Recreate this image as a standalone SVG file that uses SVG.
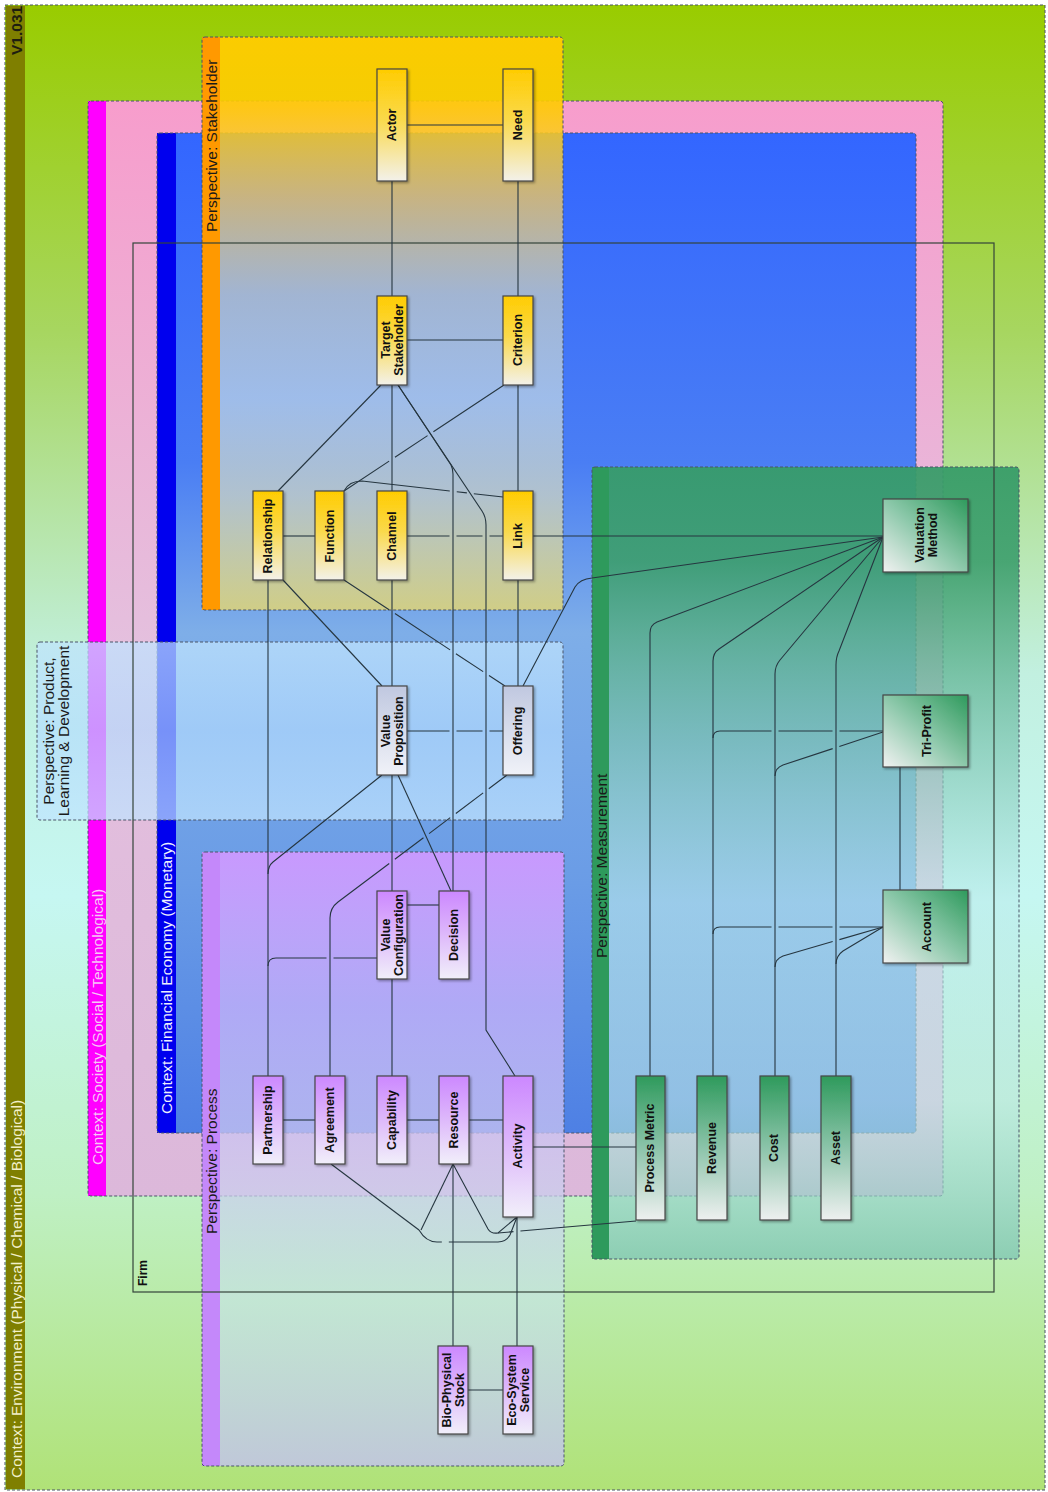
<svg xmlns="http://www.w3.org/2000/svg" width="1048" height="1492" viewBox="0 0 1048 1492">
<defs>
<style>
.bx{stroke:#4a5468;stroke-width:1;stroke-dasharray:3 2;}
.ctx{font-family:"Liberation Sans",Arial,sans-serif;font-size:15.5px;}
.per{font-family:"Liberation Sans",Arial,sans-serif;font-size:15.5px;fill:#1a1a1a;}
.nd{stroke:#474747;stroke-width:1.2;filter:url(#sh);}
.lb{font-family:"Liberation Sans",Arial,sans-serif;font-size:12.5px;font-weight:bold;fill:#111;text-anchor:middle;dominant-baseline:central;}
.fl{font-family:"Liberation Sans",Arial,sans-serif;font-size:12px;font-weight:bold;fill:#111;text-anchor:start;dominant-baseline:central;}
.cn{fill:none;stroke:#263640;stroke-width:1.1;}
</style>
<filter id="sh" x="-30%" y="-30%" width="160%" height="160%"><feDropShadow dx="1.5" dy="1.5" stdDeviation="1.2" flood-color="#000" flood-opacity="0.35"/></filter>
<linearGradient id="gEnv" x1="0" y1="0" x2="0" y2="1">
<stop offset="0" stop-color="#99cc00"/><stop offset="0.22" stop-color="#a7d660"/><stop offset="0.45" stop-color="#c2f0e0"/><stop offset="0.6" stop-color="#c6f7f2"/><stop offset="0.8" stop-color="#bff0c4"/><stop offset="1" stop-color="#b0e277"/>
</linearGradient>
<linearGradient id="gSoc" x1="0" y1="0" x2="0" y2="1">
<stop offset="0" stop-color="#f79dcc"/><stop offset="0.5" stop-color="#e4c0de"/><stop offset="1" stop-color="#dcb8da"/>
</linearGradient>
<linearGradient id="gBlue" x1="0" y1="0" x2="0" y2="1">
<stop offset="0" stop-color="#3366ff"/><stop offset="0.33" stop-color="#4a7ef4"/><stop offset="0.5" stop-color="#7eaee8"/><stop offset="0.75" stop-color="#6a9ce6"/><stop offset="1" stop-color="#4e80e4"/>
</linearGradient>
<linearGradient id="gStk" x1="0" y1="0" x2="0" y2="1">
<stop offset="0" stop-color="#ffcc00" stop-opacity="0.96"/><stop offset="0.12" stop-color="#ffcc00" stop-opacity="0.9"/><stop offset="0.28" stop-color="#f0c860" stop-opacity="0.78"/><stop offset="0.45" stop-color="#d0d4c0" stop-opacity="0.68"/><stop offset="0.63" stop-color="#c8dce4" stop-opacity="0.68"/><stop offset="0.8" stop-color="#d4d8c0" stop-opacity="0.72"/><stop offset="1" stop-color="#e6d76e" stop-opacity="0.8"/>
</linearGradient>
<linearGradient id="gProc" x1="0" y1="0" x2="0" y2="1">
<stop offset="0" stop-color="#cc99ff" stop-opacity="0.96"/><stop offset="0.25" stop-color="#c4b0fa" stop-opacity="0.8"/><stop offset="0.5" stop-color="#ccc8f0" stop-opacity="0.75"/><stop offset="0.73" stop-color="#c6e4e6" stop-opacity="0.7"/><stop offset="1" stop-color="#c1c5e3" stop-opacity="0.9"/>
</linearGradient>
<linearGradient id="gMeas" x1="0" y1="0" x2="0" y2="1">
<stop offset="0" stop-color="#379c68" stop-opacity="0.94"/><stop offset="0.12" stop-color="#3c9e6c" stop-opacity="0.9"/><stop offset="0.35" stop-color="#7cc4b0" stop-opacity="0.7"/><stop offset="0.55" stop-color="#bcecec" stop-opacity="0.6"/><stop offset="0.8" stop-color="#bce8e4" stop-opacity="0.6"/><stop offset="1" stop-color="#7dc4b3" stop-opacity="0.75"/>
</linearGradient>
<linearGradient id="gProd" x1="0" y1="0" x2="0" y2="1">
<stop offset="0" stop-color="#c0e4ff" stop-opacity="0.72"/><stop offset="0.5" stop-color="#b4dcff" stop-opacity="0.66"/><stop offset="1" stop-color="#c0e4ff" stop-opacity="0.72"/>
</linearGradient>
<linearGradient id="gY" x1="0" y1="0" x2="0" y2="1"><stop offset="0" stop-color="#ffcc00"/><stop offset="0.45" stop-color="#fad94a"/><stop offset="1" stop-color="#f3f1ea"/></linearGradient>
<linearGradient id="gP" x1="0" y1="0" x2="0" y2="1"><stop offset="0" stop-color="#cc88ff"/><stop offset="0.45" stop-color="#dcb4fb"/><stop offset="1" stop-color="#f1effa"/></linearGradient>
<linearGradient id="gB" x1="0" y1="0" x2="0" y2="1"><stop offset="0" stop-color="#c0c8e0"/><stop offset="1" stop-color="#f0f2f8"/></linearGradient>
<linearGradient id="gG" x1="0" y1="0" x2="0" y2="1"><stop offset="0" stop-color="#2e9a5c"/><stop offset="0.5" stop-color="#8cc4aa"/><stop offset="1" stop-color="#eef0f0"/></linearGradient>
<linearGradient id="gGS" x1="1" y1="0" x2="0" y2="1"><stop offset="0" stop-color="#2e9a5c"/><stop offset="0.5" stop-color="#8cc8aa"/><stop offset="1" stop-color="#f2f2f2"/></linearGradient>
</defs>

<!-- Context: Environment -->
<g id="ctx-environment">
<rect x="5" y="5" width="1040" height="1485" fill="url(#gEnv)"/>
<rect x="6" y="6" width="19" height="1483" fill="#7f7f00"/>
<rect x="5" y="5" width="1040" height="1485" fill="none" class="bx" stroke="#7a7a7a"/>
<text class="ctx" font-weight="bold" font-size="11.5" fill="#1e1e10" transform="translate(16,55) rotate(-90)" dominant-baseline="central">V1.031</text>
<text class="ctx" font-size="16.5" fill="#f2f0c8" transform="translate(16,1478) rotate(-90)" dominant-baseline="central">Context: Environment (Physical / Chemical / Biological)</text>
</g>

<!-- Context: Society -->
<g id="ctx-society">
<rect x="88" y="101" width="855" height="1095" rx="3" fill="url(#gSoc)"/>
<rect x="88" y="101" width="18" height="1095" fill="#ff00ff"/>
<rect x="88" y="101" width="855" height="1095" rx="3" fill="none" class="bx"/>
</g>

<!-- Context: Financial Economy -->
<g id="ctx-financial">
<rect x="157" y="133" width="759" height="1000" rx="3" fill="url(#gBlue)"/>
<rect x="157" y="133" width="19" height="1000" fill="#0000ee"/>
<rect x="157" y="133" width="759" height="1000" rx="3" fill="none" class="bx"/>
</g>

<!-- Perspective: Stakeholder -->
<g id="per-stakeholder">
<rect x="202" y="37" width="361" height="573" rx="3" fill="url(#gStk)"/>
<rect x="202" y="37" width="18" height="573" fill="#ff9900"/>
<rect x="202" y="37" width="361" height="573" rx="3" fill="none" class="bx"/>
<text class="per" font-size="14.5" transform="translate(211,232) rotate(-90)" dominant-baseline="central">Perspective: Stakeholder</text>
</g>

<!-- Perspective: Process -->
<g id="per-process">
<rect x="202" y="852" width="362" height="614" rx="3" fill="url(#gProc)"/>
<rect x="202" y="852" width="18" height="614" fill="#c488fa"/>
<rect x="202" y="852" width="362" height="614" rx="3" fill="none" class="bx"/>
<text class="per" transform="translate(211,1234) rotate(-90)" dominant-baseline="central">Perspective: Process</text>
</g>

<!-- Perspective: Measurement -->
<g id="per-measurement">
<rect x="592" y="467" width="427" height="792" rx="3" fill="url(#gMeas)"/>
<rect x="592" y="467" width="17" height="792" fill="#2e9a5c"/>
<rect x="592" y="467" width="427" height="792" rx="3" fill="none" class="bx"/>
<text class="per" transform="translate(601,958) rotate(-90)" dominant-baseline="central">Perspective: Measurement</text>
</g>

<!-- Perspective: Product, Learning & Development -->
<g id="per-product">
<rect x="37" y="642" width="526" height="178" rx="3" fill="url(#gProd)"/>
<rect x="37" y="642" width="526" height="178" rx="3" fill="none" class="bx"/>
<text class="per" font-size="15" text-anchor="middle" transform="translate(48,731) rotate(-90)" dominant-baseline="central">Perspective: Product,</text>
<text class="per" font-size="15" text-anchor="middle" transform="translate(63,731) rotate(-90)" dominant-baseline="central">Learning &amp; Development</text>
</g>

<!-- context labels -->
<g id="ctx-labels">
<text class="ctx" fill="#f6c8f6" transform="translate(97,1165) rotate(-90)" dominant-baseline="central">Context: Society (Social / Technological)</text>
<text class="ctx" fill="#eef0ff" transform="translate(166,1114) rotate(-90)" dominant-baseline="central">Context: Financial Economy (Monetary)</text>
</g>

<!-- Firm -->
<g id="firm">
<rect x="133" y="243" width="861" height="1049" fill="none" stroke="#34443a" stroke-width="1.2"/>
<text class="fl" transform="translate(143,1286) rotate(-90)">Firm</text>
</g>

<!-- Connectors -->
<g id="connectors">
<line class="cn" x1="407" y1="125" x2="503" y2="125"/>
<line class="cn" x1="392" y1="181" x2="392" y2="296"/>
<line class="cn" x1="518" y1="181" x2="518" y2="296"/>
<line class="cn" x1="407" y1="340" x2="503" y2="340"/>
<line class="cn" x1="381" y1="385" x2="278" y2="491"/>
<line class="cn" x1="392" y1="385" x2="392" y2="491"/>
<path class="cn" d="M398 385 L451 465 Q453 469 453 474 L453 891"/>
<path class="cn" d="M398 385 L482 511 Q486 517 486 525 L486 1030 L515 1076"/>
<line class="cn" x1="518" y1="385" x2="518" y2="491"/>
<path class="cn" stroke-dasharray="84.7 7 39.1 7 300" d="M504 385 L344 491"/>
<path class="cn" stroke-dasharray="110.1 7 10.2 7 300" d="M344 491 Q349 481 362 481 L503 497"/>
<line class="cn" x1="283" y1="536" x2="315" y2="536"/>
<path class="cn" stroke-dasharray="42.5 7 26 7 100" d="M407 536 L503 536"/>
<line class="cn" x1="533" y1="536" x2="883" y2="536"/>
<line class="cn" x1="518" y1="580" x2="518" y2="686"/>
<path class="cn" d="M523 686 L575 587 Q580 579 592 578 L883 537"/>
<line class="cn" x1="268" y1="580" x2="268" y2="1076"/>
<line class="cn" x1="283" y1="580" x2="382" y2="686"/>
<path class="cn" stroke-dasharray="54 7 66 7 32.6 7 300" d="M344 580 L505 686"/>
<line class="cn" x1="392" y1="580" x2="392" y2="686"/>
<path class="cn" stroke-dasharray="43.5 7 26 7 100" d="M406 731 L503 731"/>
<line class="cn" x1="392" y1="775" x2="392" y2="891"/>
<line class="cn" x1="398" y1="775" x2="451" y2="891"/>
<path class="cn" d="M382 775 L273 862 Q268 866 268 874"/>
<path class="cn" stroke-dasharray="22.8 7 34.2 7 26.5 7 35.8 7 500" d="M507 775 L338 902 Q330 908 330 918 L330 1076"/>
<line class="cn" x1="407" y1="905" x2="439" y2="905"/>
<path class="cn" stroke-dasharray="43.5 7 100" d="M377 958 L276 958 Q268 958 268 966"/>
<line class="cn" x1="392" y1="979" x2="392" y2="1076"/>
<line class="cn" x1="283" y1="1120" x2="315" y2="1120"/>
<line class="cn" x1="407" y1="1120" x2="439" y2="1120"/>
<line class="cn" x1="469" y1="1120" x2="503" y2="1120"/>
<line class="cn" x1="533" y1="1147" x2="636" y2="1147"/>
<line class="cn" x1="453" y1="1164" x2="453" y2="1346"/>
<line class="cn" x1="517" y1="1217" x2="517" y2="1346"/>
<line class="cn" x1="468" y1="1390" x2="503" y2="1390"/>
<path class="cn" d="M453 1164 L488 1229 Q491 1234 498 1233 L517 1217"/>
<path class="cn" stroke-dasharray="116 7 100" d="M636 1221 L498 1233"/>
<line class="cn" x1="453" y1="1164" x2="421" y2="1230"/>
<path class="cn" d="M331 1164 L419 1230"/>
<path class="cn" stroke-dasharray="27.5 7 200" d="M419 1230 Q426 1242 437 1242 L498 1242 Q506 1242 510 1235 L517 1217"/>
<path class="cn" d="M883 537 L657 622 Q650 625 650 633 L650 1076"/>
<path class="cn" d="M883 537 L719 649 Q713 653 713 661 L713 1076"/>
<path class="cn" d="M883 537 L780 660 Q775 666 775 674 L775 1076"/>
<path class="cn" d="M883 537 L839 651 Q836 657 836 665 L836 1076"/>
<path class="cn" stroke-dasharray="43.5 7 54 7 100" d="M883 731 L720 731 Q713 731 713 738"/>
<path class="cn" stroke-dasharray="46 7 100" d="M883 732 L783 765 Q775 768 775 776"/>
<line class="cn" x1="900" y1="767" x2="900" y2="890"/>
<path class="cn" stroke-dasharray="43.5 7 54 7 100" d="M883 927 L720 927 Q713 927 713 934"/>
<path class="cn" stroke-dasharray="45.4 7 100" d="M883 927 L783 956 Q775 959 775 967"/>
<path class="cn" d="M883 927 L843 951 Q836 956 836 964"/>
</g>

<!-- Stakeholder nodes -->
<g id="n-actor"><rect class="nd" x="377" y="69" width="30" height="112" fill="url(#gY)"/><text class="lb" transform="translate(392,125) rotate(-90)">Actor</text></g>
<g id="n-need"><rect class="nd" x="503" y="69" width="30" height="112" fill="url(#gY)"/><text class="lb" transform="translate(518,125) rotate(-90)">Need</text></g>
<g id="n-target-stakeholder"><rect class="nd" x="377" y="296" width="30" height="89" fill="url(#gY)"/><text class="lb" transform="translate(392,340) rotate(-90)"><tspan x="0" y="-6.5">Target</tspan><tspan x="0" y="6.5">Stakeholder</tspan></text></g>
<g id="n-criterion"><rect class="nd" x="503" y="296" width="30" height="89" fill="url(#gY)"/><text class="lb" transform="translate(518,340) rotate(-90)">Criterion</text></g>
<g id="n-relationship"><rect class="nd" x="253" y="491" width="30" height="89" fill="url(#gY)"/><text class="lb" transform="translate(268,536) rotate(-90)">Relationship</text></g>
<g id="n-function"><rect class="nd" x="315" y="491" width="29" height="89" fill="url(#gY)"/><text class="lb" transform="translate(330,536) rotate(-90)">Function</text></g>
<g id="n-channel"><rect class="nd" x="377" y="491" width="30" height="89" fill="url(#gY)"/><text class="lb" transform="translate(392,536) rotate(-90)">Channel</text></g>
<g id="n-link"><rect class="nd" x="503" y="491" width="30" height="89" fill="url(#gY)"/><text class="lb" transform="translate(518,536) rotate(-90)">Link</text></g>

<!-- Product nodes -->
<g id="n-value-proposition"><rect class="nd" x="377" y="686" width="30" height="89" fill="url(#gB)"/><text class="lb" transform="translate(392,731) rotate(-90)"><tspan x="0" y="-6.5">Value</tspan><tspan x="0" y="6.5">Proposition</tspan></text></g>
<g id="n-offering"><rect class="nd" x="503" y="686" width="30" height="89" fill="url(#gB)"/><text class="lb" transform="translate(518,731) rotate(-90)">Offering</text></g>

<!-- Process nodes -->
<g id="n-value-configuration"><rect class="nd" x="377" y="891" width="30" height="88" fill="url(#gP)"/><text class="lb" transform="translate(392,935) rotate(-90)"><tspan x="0" y="-6.5">Value</tspan><tspan x="0" y="6.5">Configuration</tspan></text></g>
<g id="n-decision"><rect class="nd" x="439" y="891" width="30" height="88" fill="url(#gP)"/><text class="lb" transform="translate(454,935) rotate(-90)">Decision</text></g>
<g id="n-partnership"><rect class="nd" x="253" y="1076" width="30" height="88" fill="url(#gP)"/><text class="lb" transform="translate(268,1120) rotate(-90)">Partnership</text></g>
<g id="n-agreement"><rect class="nd" x="315" y="1076" width="30" height="88" fill="url(#gP)"/><text class="lb" transform="translate(330,1120) rotate(-90)">Agreement</text></g>
<g id="n-capability"><rect class="nd" x="377" y="1076" width="30" height="88" fill="url(#gP)"/><text class="lb" transform="translate(392,1120) rotate(-90)">Capability</text></g>
<g id="n-resource"><rect class="nd" x="439" y="1076" width="30" height="88" fill="url(#gP)"/><text class="lb" transform="translate(454,1120) rotate(-90)">Resource</text></g>
<g id="n-activity"><rect class="nd" x="503" y="1076" width="30" height="141" fill="url(#gP)"/><text class="lb" transform="translate(518,1146) rotate(-90)">Activity</text></g>
<g id="n-bio-physical-stock"><rect class="nd" x="438" y="1346" width="30" height="88" fill="url(#gP)"/><text class="lb" transform="translate(453,1390) rotate(-90)"><tspan x="0" y="-6.5">Bio-Physical</tspan><tspan x="0" y="6.5">Stock</tspan></text></g>
<g id="n-eco-system-service"><rect class="nd" x="503" y="1346" width="30" height="88" fill="url(#gP)"/><text class="lb" transform="translate(518,1390) rotate(-90)"><tspan x="0" y="-6.5">Eco-System</tspan><tspan x="0" y="6.5">Service</tspan></text></g>

<!-- Measurement nodes -->
<g id="n-valuation-method"><rect class="nd" x="883" y="499" width="85" height="73" fill="url(#gGS)"/><text class="lb" transform="translate(926,535) rotate(-90)"><tspan x="0" y="-6.5">Valuation</tspan><tspan x="0" y="6.5">Method</tspan></text></g>
<g id="n-tri-profit"><rect class="nd" x="883" y="695" width="85" height="72" fill="url(#gGS)"/><text class="lb" transform="translate(927,731) rotate(-90)">Tri-Profit</text></g>
<g id="n-account"><rect class="nd" x="883" y="890" width="85" height="73" fill="url(#gGS)"/><text class="lb" transform="translate(927,927) rotate(-90)">Account</text></g>
<g id="n-process-metric"><rect class="nd" x="636" y="1076" width="29" height="144" fill="url(#gG)"/><text class="lb" transform="translate(650,1148) rotate(-90)">Process Metric</text></g>
<g id="n-revenue"><rect class="nd" x="697" y="1076" width="30" height="144" fill="url(#gG)"/><text class="lb" transform="translate(712,1148) rotate(-90)">Revenue</text></g>
<g id="n-cost"><rect class="nd" x="760" y="1076" width="29" height="144" fill="url(#gG)"/><text class="lb" transform="translate(774,1148) rotate(-90)">Cost</text></g>
<g id="n-asset"><rect class="nd" x="821" y="1076" width="30" height="144" fill="url(#gG)"/><text class="lb" transform="translate(836,1148) rotate(-90)">Asset</text></g>
</svg>
